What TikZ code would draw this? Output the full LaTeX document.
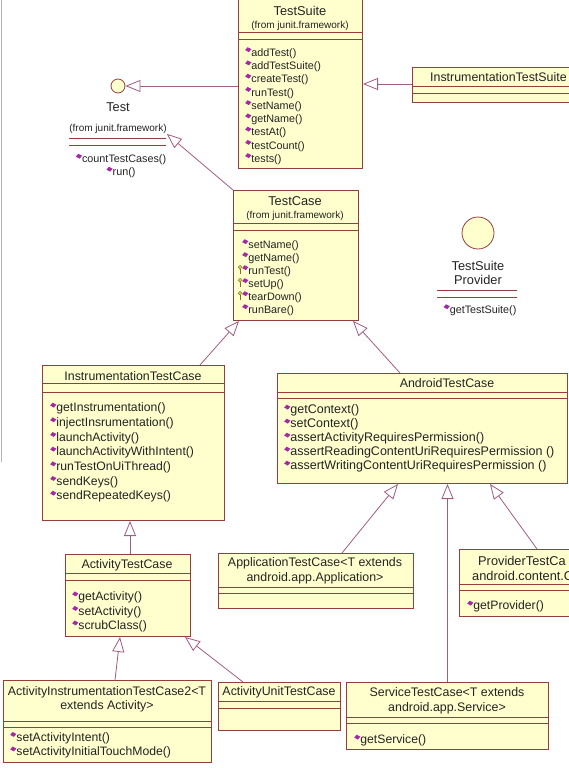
\documentclass[tikz,border=0pt]{standalone}
\usepackage{fontspec}
\setmainfont{Liberation Sans}
\usetikzlibrary{arrows.meta}

\definecolor{clsfill}{RGB}{255,255,206}
\definecolor{clsline}{RGB}{150,62,62}
\definecolor{genline}{RGB}{160,92,130}
\definecolor{methpurple}{RGB}{165,40,165}
\definecolor{keyyellow}{RGB}{225,205,70}
\definecolor{txt}{RGB}{35,35,35}

\newcommand\pubicon{\tikz[x=1pt,y=1pt,baseline=0pt]\fill[methpurple] (0,6.3)--(2.4,9.2)--(6.2,7.2)--(3.6,4.3)--cycle;}
\newcommand\keyicon{\tikz[x=1pt,y=1pt,baseline=0pt]{\draw[keyyellow!55!black,fill=keyyellow,line width=.4pt] (2,7.2) circle (1.9); \fill[keyyellow!55!black] (1.5,0) rectangle (2.5,5.3);}}

\begin{document}
\begin{tikzpicture}[x=1pt,y=-1pt]
    \tikzset{
        cls/.style={draw=clsline,fill=clsfill,line width=1pt,anchor=north west,inner sep=0pt},
        sep/.style={draw=clsline,line width=1pt},
        cname/.style={text=txt,inner sep=0pt,align=center,font=\fontsize{12.4}{14.5}\selectfont},
        pkg/.style={text=txt,inner sep=0pt,font=\fontsize{10}{12}\selectfont},
        meth/.style={text=txt,inner sep=0pt,anchor=north west,align=left,font=\fontsize{12.2}{14.5}\selectfont},
        iface/.style={circle,draw=clsline,fill=clsfill,line width=0.8pt,inner sep=0pt},
        gen/.style={draw=genline,line width=0.8pt,-{Triangle[length=15pt,width=12pt,fill=white]}}
    }
    \useasboundingbox (0,0) rectangle (569,768);
    \clip (0,0) rectangle (569,768);
    \draw[gray!60,line width=1.2pt] (1.5,0) -- (1.5,462);

\node[cls,minimum width=124pt,minimum height=169pt] (testsuite) at (238,-1) {};
\draw[sep] (238,33) -- (362,33) (238,40) -- (362,40);
\node[cname,font=\fontsize{12.8}{15}\selectfont] (testsuite-name) at (300,11) {TestSuite};
\node[pkg] (testsuite-pkg) at (300,26) {(from junit.framework)};
\node[meth,font=\fontsize{10.8}{13.25}\selectfont] (testsuite-ops) at (245,47) {\pubicon addTest()\\\pubicon addTestSuite()\\\pubicon createTest()\\\pubicon runTest()\\\pubicon setName()\\\pubicon getName()\\\pubicon testAt()\\\pubicon testCount()\\\pubicon tests()};

\node[iface,minimum size=14pt] (test) at (118,86) {};
\node[cname,font=\fontsize{12.8}{15}\selectfont] (test-name) at (118,107) {Test};
\node[pkg] (test-pkg) at (118,129) {(from junit.framework)};
\draw[sep] (69,138) -- (166,138) (69,145) -- (166,145);
\node[meth,anchor=center,align=center,font=\fontsize{10.8}{13}\selectfont] (test-ops) at (121,166) {\pubicon countTestCases()\\\pubicon run()};

\node[cls,minimum width=170pt,minimum height=35pt] (itsuite) at (412,67) {};
\draw[sep] (412,86) -- (569,86) (412,93) -- (569,93);
\node[cname,anchor=west] (itsuite-name) at (430,77) {InstrumentationTestSuite};

\node[cls,minimum width=125pt,minimum height=130pt] (testcase) at (233,190) {};
\draw[sep] (233,223) -- (358,223) (233,230) -- (358,230);
\node[cname,font=\fontsize{12.8}{15}\selectfont] (testcase-name) at (295,201) {TestCase};
\node[pkg] (testcase-pkg) at (295,216) {(from junit.framework)};
\node[meth,font=\fontsize{10.8}{13}\selectfont] (testcase-ops) at (242,239) {\pubicon setName()\\\pubicon getName()\\\llap{\keyicon}\pubicon runTest()\\\llap{\keyicon}\pubicon setUp()\\\llap{\keyicon}\pubicon tearDown()\\\pubicon runBare()};

\node[iface,minimum size=32pt] (provider) at (478,233) {};
\node[cname,font=\fontsize{12.8}{14}\selectfont] (provider-name) at (478,273) {TestSuite\\Provider};
\draw[sep] (437,290) -- (517,290) (437,297) -- (517,297);
\node[meth,anchor=center,font=\fontsize{10.8}{13}\selectfont] (provider-ops) at (480,310) {\pubicon getTestSuite()};

\node[cls,minimum width=182pt,minimum height=155pt] (itcase) at (42,365) {};
\draw[sep] (42,383) -- (224,383) (42,392) -- (224,392);
\node[cname] (itcase-name) at (133,376) {InstrumentationTestCase};
\node[meth,font=\fontsize{12.2}{14.67}\selectfont] (itcase-ops) at (50,402.5) {\pubicon getInstrumentation()\\\pubicon injectInsrumentation()\\\pubicon launchActivity()\\\pubicon launchActivityWithIntent()\\\pubicon runTestOnUiThread()\\\pubicon sendKeys()\\\pubicon sendRepeatedKeys()};

\node[cls,minimum width=290pt,minimum height=110pt] (atcase) at (277,373) {};
\draw[sep] (277,392) -- (567,392) (277,398) -- (567,398);
\node[cname] (atcase-name) at (447,383) {AndroidTestCase};
\node[meth,font=\fontsize{12.5}{14}\selectfont] (atcase-ops) at (284,404.5) {\pubicon getContext()\\\pubicon setContext()\\\pubicon assertActivityRequiresPermission()\\\pubicon assertReadingContentUriRequiresPermission ()\\\pubicon assertWritingContentUriRequiresPermission ()};

\node[cls,minimum width=195pt,minimum height=55pt] (apptc) at (218,553) {};
\draw[sep] (218,587) -- (413,587) (218,593) -- (413,593);
\node[cname,font=\fontsize{12.4}{15}\selectfont] (apptc-name) at (315,570.5) {ApplicationTestCase<T extends\\android.app.Application>};

\node[cls,minimum width=130pt,minimum height=67pt] (provtc) at (459,549) {};
\draw[sep] (459,584) -- (569,584) (459,590) -- (569,590);
\node[cname,anchor=west,font=\fontsize{12.8}{15}\selectfont] (provtc-name) at (478,561) {ProviderTestCa};
\node[cname,anchor=west,font=\fontsize{12.8}{15}\selectfont] (provtc-pkg) at (472,576) {android.content.C};
\node[meth] (provtc-ops) at (467,600.5) {\pubicon getProvider()};

\node[cls,minimum width=125pt,minimum height=82pt] (acttc) at (65,554) {};
\draw[sep] (65,573) -- (190,573) (65,580) -- (190,580);
\node[cname] (acttc-name) at (127,565) {ActivityTestCase};
\node[meth] (acttc-ops) at (72,591.3) {\pubicon getActivity()\\\pubicon setActivity()\\\pubicon scrubClass()};

\node[cls,minimum width=208pt,minimum height=82pt] (aitc2) at (3,680) {};
\draw[sep] (3,721) -- (211,721) (3,727) -- (211,727);
\node[cname,font=\fontsize{12.4}{13.5}\selectfont] (aitc2-name) at (107,699.5) {ActivityInstrumentationTestCase2<T\\extends Activity>};
\node[meth] (aitc2-ops) at (10,731.8) {\pubicon setActivityIntent()\\\pubicon setActivityInitialTouchMode()};

\node[cls,minimum width=122pt,minimum height=48pt] (autc) at (218,682) {};
\draw[sep] (218,701) -- (340,701) (218,708) -- (340,708);
\node[cname] (autc-name) at (279,692) {ActivityUnitTestCase};

\node[cls,minimum width=202pt,minimum height=67pt] (servtc) at (346,682) {};
\draw[sep] (346,717) -- (548,717) (346,723) -- (548,723);
\node[cname,font=\fontsize{12.4}{15}\selectfont] (servtc-name) at (447,700.5) {ServiceTestCase<T extends\\android.app.Service>};
\node[meth] (servtc-ops) at (354,734.5) {\pubicon getService()};

\draw[gen] (itsuite.west |- 0,84) -- (testsuite.east |- 0,84);
\draw[gen] (testsuite.west |- 0,86) -- (test.east);
\draw[gen] (testcase.north west) -- (test-pkg.south east);
\draw[gen] (itcase.north -| 200,0) -- (testcase.south -| 239,0);
\draw[gen] (atcase.north -| 400,0) -- (testcase.south -| 353,0);
\draw[gen] (apptc.north -| 342,0) -- (atcase.south -| 398,0);
\draw[gen] (servtc.north) -- (atcase.south -| servtc.north);
\draw[gen] (provtc.north -| 537,0) -- (atcase.south -| 490,0);
\draw[gen] (acttc.north -| 130,0) -- (itcase.south -| 130,0);
\draw[gen] (aitc2.north -| 115,0) -- (acttc.south -| 120,0);
\draw[gen] (autc.north -| 243,0) -- (acttc.south -| 185,0);

\end{tikzpicture}
\end{document}
